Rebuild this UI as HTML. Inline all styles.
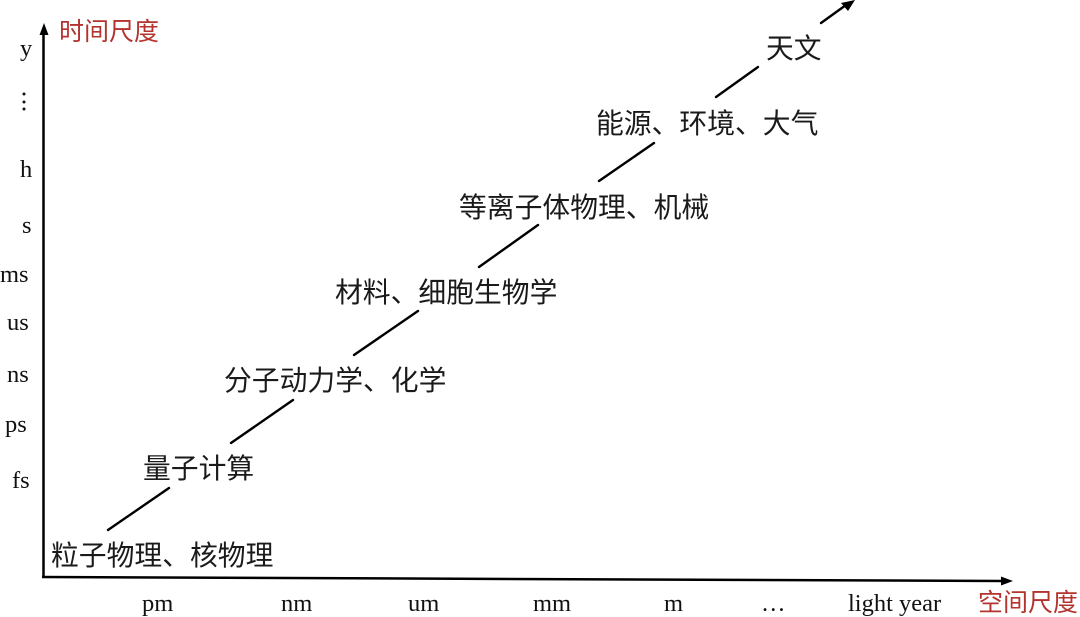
<!DOCTYPE html>
<html>
<head>
<meta charset="utf-8">
<style>
  html, body { margin: 0; padding: 0; background: #ffffff; }
  body { width: 1080px; height: 617px; overflow: hidden; }
  svg { display: block; }
  .t { font-family: "Liberation Serif", "Noto Serif CJK SC", serif; font-size: 24.5px; fill: #111; }
  .c { font-family: "Liberation Sans", "Noto Sans CJK SC", sans-serif; font-size: 27.8px; fill: #1a1a1a; }
  .r { font-family: "Liberation Sans", "Noto Sans CJK SC", sans-serif; font-size: 25px; fill: #b3332e; }
</style>
</head>
<body>
<svg width="1080" height="617" viewBox="0 0 1080 617" xmlns="http://www.w3.org/2000/svg">
  <!-- axes -->
  <line x1="43.5" y1="578" x2="43.5" y2="32" stroke="#000" stroke-width="2.5"/>
  <polygon points="44,23 39.5,35 48.5,35" fill="#000"/>
  <line x1="42" y1="577" x2="1002" y2="581" stroke="#000" stroke-width="2.5"/>
  <polygon points="1013,581 1001,576.5 1001,585.5" fill="#000"/>

  <!-- titles -->
  <text class="r" x="59" y="40">时间尺度</text>
  <text class="r" x="978" y="611">空间尺度</text>

  <!-- y tick labels -->
  <text class="t" x="20" y="56">y</text>
  <circle cx="24" cy="94" r="1.5" fill="#111"/>
  <circle cx="24" cy="102" r="1.5" fill="#111"/>
  <circle cx="24" cy="109" r="1.5" fill="#111"/>
  <text class="t" x="20" y="177">h</text>
  <text class="t" x="22" y="233">s</text>
  <text class="t" x="0" y="282">ms</text>
  <text class="t" x="7" y="330">us</text>
  <text class="t" x="7" y="382">ns</text>
  <text class="t" x="5" y="432">ps</text>
  <text class="t" x="12" y="488">fs</text>

  <!-- x tick labels -->
  <text class="t" x="142" y="611">pm</text>
  <text class="t" x="281" y="611">nm</text>
  <text class="t" x="408" y="611">um</text>
  <text class="t" x="533" y="611">mm</text>
  <text class="t" x="664" y="611">m</text>
  <text class="t" x="761" y="611">…</text>
  <text class="t" x="848" y="611">light year</text>

  <!-- diagonal segments -->
  <g stroke="#000" stroke-width="2.4" stroke-linecap="round">
    <line x1="108" y1="530" x2="169" y2="488"/>
    <line x1="231" y1="443" x2="293" y2="400"/>
    <line x1="354" y1="355" x2="418" y2="311"/>
    <line x1="479" y1="267" x2="538" y2="225"/>
    <line x1="599" y1="181" x2="654" y2="143"/>
    <line x1="716" y1="97" x2="758" y2="67"/>
    <line x1="821" y1="23" x2="846" y2="5"/>
  </g>
  <polygon points="855,0 841,3 848,11" fill="#000"/>

  <!-- labels -->
  <text class="c" x="51" y="565">粒子物理、核物理</text>
  <text class="c" x="143" y="478">量子计算</text>
  <text class="c" x="224" y="390">分子动力学、化学</text>
  <text class="c" x="335" y="302">材料、细胞生物学</text>
  <text class="c" x="459" y="217">等离子体物理、机械</text>
  <text class="c" x="596" y="133">能源、环境、大气</text>
  <text class="c" x="766" y="58">天文</text>
</svg>
</body>
</html>
